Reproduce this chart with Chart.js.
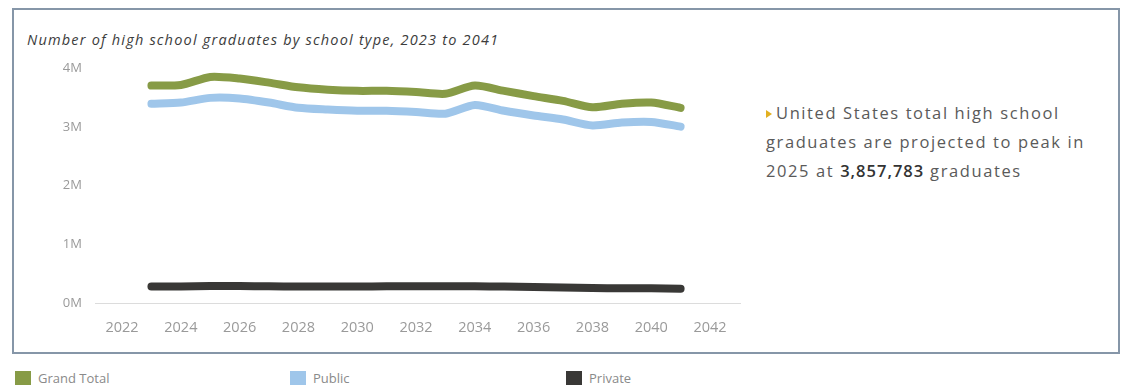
<!DOCTYPE html>
<html>
<head>
<meta charset="utf-8">
<script src="https://cdn.jsdelivr.net/npm/chart.js@4.4.1/dist/chart.umd.min.js"></script>
<style>
  html, body { margin: 0; padding: 0; background: #ffffff; }
  body { width: 1123px; height: 388px; position: relative; overflow: hidden; font-family: "Open Sans", "DejaVu Sans", sans-serif; }
  #frame { position: absolute; left: 12px; top: 8px; width: 1108px; height: 346px; box-sizing: border-box; border: 2px solid #8696a8; }
  #title { position: absolute; left: 27px; top: 30px; font-style: italic; font-size: 14.5px; letter-spacing: 1.2px; color: #3c3c3c; white-space: nowrap; }
  #chartBox { position: absolute; left: 0; top: 0; width: 760px; height: 346px; }
  #note { position: absolute; left: 766px; top: 98px; width: 350px; font-size: 16.5px; letter-spacing: 1.6px; line-height: 29px; color: #5a5a5a; white-space: nowrap; }
  #note b { color: #333; font-weight: 600; letter-spacing: 1px; }
  #note .mark { display: inline-block; width: 0; height: 0; border-top: 4px solid transparent; border-bottom: 4px solid transparent; border-left: 6px solid #e2b020; margin-right: 4px; vertical-align: 1px; }
  #legend { position: absolute; left: 0; top: 369px; width: 1123px; height: 19px; }
  .item { position: absolute; top: 0; font-size: 13px; color: #8a8a8a; white-space: nowrap; }
  .swatch { position: absolute; left: 0; top: 2px; width: 16px; height: 14px; }
  .item span { position: absolute; left: 23px; top: 0; }
</style>
</head>
<body>
<div id="frame"></div>
<div id="title">Number of high school graduates by school type, 2023 to 2041</div>
<div id="chartBox"><canvas id="grads"></canvas></div>
<div id="note"><span class="mark"></span>United States total high school<br>graduates are projected to peak in<br>2025 at <b>3,857,783</b> graduates</div>
<div id="legend"></div>

<script>
// Graduating class years
const years = [2023, 2024, 2025, 2026, 2027, 2028, 2029, 2030, 2031, 2032,
               2033, 2034, 2035, 2036, 2037, 2038, 2039, 2040, 2041];

// Graduates per year, by school type
const grandTotal = [3710000, 3720000, 3857783, 3830000, 3760000, 3680000, 3640000, 3620000, 3620000, 3600000,
                    3570000, 3710000, 3620000, 3530000, 3450000, 3340000, 3400000, 3420000, 3330000];
const publicSchools = [3400000, 3420000, 3500000, 3490000, 3420000, 3330000, 3300000, 3280000, 3280000, 3260000,
                       3230000, 3380000, 3280000, 3200000, 3130000, 3030000, 3080000, 3090000, 3010000];
const privateSchools = [280000, 280000, 290000, 290000, 285000, 280000, 280000, 280000, 285000, 285000,
                        285000, 285000, 280000, 275000, 265000, 255000, 250000, 250000, 245000];

// Series names and colours
const seriesNames = ["Grand Total", "Public", "Private"];
const seriesColors = ["#879b46", "#9fc6ea", "#393836"];

// Axis ticks
const xTicks = [2022, 2024, 2026, 2028, 2030, 2032, 2034, 2036, 2038, 2040, 2042];
const yTicks = [0, 1000000, 2000000, 3000000, 4000000];

const seriesValues = [grandTotal, publicSchools, privateSchools];

const datasets = seriesNames.map((name, i) => ({
  label: name,
  data: years.map((yr, j) => ({ x: yr, y: seriesValues[i][j] })),
  borderColor: seriesColors[i],
  backgroundColor: seriesColors[i],
  borderWidth: 8,
  borderCapStyle: "round",
  borderJoinStyle: "round",
  pointRadius: 0,
  tension: 0.25,
  fill: false
}));

new Chart(document.getElementById("grads"), {
  type: "line",
  data: { datasets },
  options: {
    responsive: true,
    maintainAspectRatio: false,
    animation: false,
    layout: { padding: { top: 51, left: 0, right: 20, bottom: 0 } },
    plugins: { legend: { display: false }, tooltip: { enabled: false } },
    scales: {
      x: {
        type: "linear",
        min: 2021.08,
        max: 2043.02,
        afterBuildTicks: (scale) => { scale.ticks = xTicks.map(v => ({ value: v })); },
        afterFit: (scale) => { scale.height = 43; },
        grid: { display: false, drawTicks: false },
        border: { display: true, color: "#dcdcdc", width: 1 },
        ticks: {
          padding: 16,
          color: "#9a9a9a",
          font: { family: "Open Sans", size: 14.5 },
          maxRotation: 0,
          callback: (v) => String(v)
        }
      },
      y: {
        min: 0,
        max: 4300000,
        afterBuildTicks: (scale) => { scale.ticks = yTicks.map(v => ({ value: v })); },
        afterFit: (scale) => { scale.width = 95; },
        grid: { display: false, drawTicks: false },
        border: { display: false },
        ticks: {
          padding: 13,
          color: "#9a9a9a",
          font: { family: "Open Sans", size: 13 },
          callback: (v) => (v / 1000000) + "M"
        }
      }
    }
  }
});

// Colour key under the frame
const legendX = [15, 290, 566];
const legend = document.getElementById("legend");
seriesNames.forEach((name, i) => {
  const item = document.createElement("div");
  item.className = "item";
  item.style.left = legendX[i] + "px";
  const sw = document.createElement("div");
  sw.className = "swatch";
  sw.style.background = seriesColors[i];
  const txt = document.createElement("span");
  txt.textContent = name;
  item.appendChild(sw);
  item.appendChild(txt);
  legend.appendChild(item);
});
</script>
</body>
</html>
